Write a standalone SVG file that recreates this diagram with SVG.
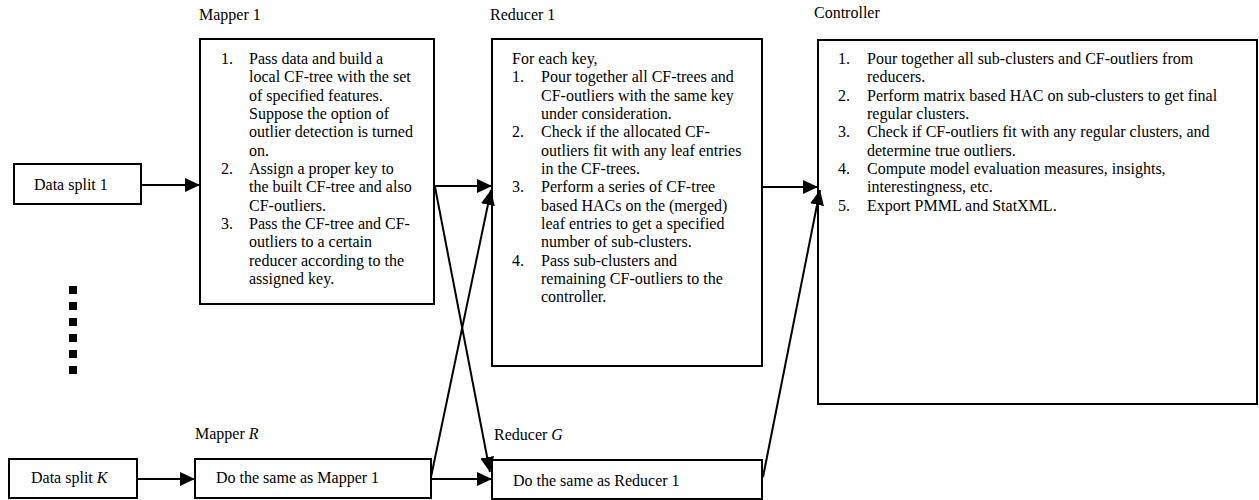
<svg xmlns="http://www.w3.org/2000/svg" width="1259" height="500" viewBox="0 0 1259 500">
<style>
text{font-family:"Liberation Serif","Times New Roman",serif;font-size:16px;fill:#000}
.box{fill:#fff;stroke:#000;stroke-width:2}
.c{stroke:#000;stroke-width:2;fill:none;marker-end:url(#ah)}
.dot{fill:#000}
</style>
<defs>
<marker id="ah" markerUnits="userSpaceOnUse" markerWidth="16" markerHeight="14" refX="15" refY="7" orient="auto">
<path d="M0,0 L15,7 L0,14 z" fill="#000"/>
</marker>
</defs>
<rect width="1259" height="500" fill="#fff"/>

<g id="data-split-1">
<rect class="box" x="14" y="164" width="127" height="40"/>
<text x="34" y="189.5">Data split 1</text>
</g>

<g id="mapper-1">
<text x="199" y="19.5">Mapper 1</text>
<rect class="box" x="200" y="39" width="234" height="265"/>
<text x="221" y="64">1.</text>
<text x="249" y="64">Pass data and build a</text>
<text x="249" y="82.3">local CF-tree with the set</text>
<text x="249" y="100.7">of specified features.</text>
<text x="249" y="119">Suppose the option of</text>
<text x="249" y="137.3">outlier detection is turned</text>
<text x="249" y="155.7">on.</text>
<text x="221" y="174">2.</text>
<text x="249" y="174">Assign a proper key to</text>
<text x="249" y="192.3">the built CF-tree and also</text>
<text x="249" y="210.7">CF-outliers.</text>
<text x="221" y="229">3.</text>
<text x="249" y="229">Pass the CF-tree and CF-</text>
<text x="249" y="247.3">outliers to a certain</text>
<text x="249" y="265.7">reducer according to the</text>
<text x="249" y="284">assigned key.</text>
</g>

<g id="reducer-1">
<text x="490" y="19.5">Reducer 1</text>
<rect class="box" x="492" y="39" width="270" height="327"/>
<text x="512" y="64">For each key,</text>
<text x="512" y="82.3">1.</text>
<text x="541" y="82.3">Pour together all CF-trees and</text>
<text x="541" y="100.7">CF-outliers with the same key</text>
<text x="541" y="119">under consideration.</text>
<text x="512" y="137.3">2.</text>
<text x="541" y="137.3">Check if the allocated CF-</text>
<text x="541" y="155.7">outliers fit with any leaf entries</text>
<text x="541" y="174">in the CF-trees.</text>
<text x="512" y="192.3">3.</text>
<text x="541" y="192.3">Perform a series of CF-tree</text>
<text x="541" y="210.7">based HACs on the (merged)</text>
<text x="541" y="229">leaf entries to get a specified</text>
<text x="541" y="247.3">number of sub-clusters.</text>
<text x="512" y="265.7">4.</text>
<text x="541" y="265.7">Pass sub-clusters and</text>
<text x="541" y="284">remaining CF-outliers to the</text>
<text x="541" y="302.3">controller.</text>
</g>

<g id="controller">
<text x="814" y="18.3">Controller</text>
<rect class="box" x="818" y="40" width="439" height="364"/>
<text x="838" y="64">1.</text>
<text x="867" y="64">Pour together all sub-clusters and CF-outliers from</text>
<text x="867" y="82.3">reducers.</text>
<text x="838" y="100.7">2.</text>
<text x="867" y="100.7">Perform matrix based HAC on sub-clusters to get final</text>
<text x="867" y="119">regular clusters.</text>
<text x="838" y="137.3">3.</text>
<text x="867" y="137.3">Check if CF-outliers fit with any regular clusters, and</text>
<text x="867" y="155.7">determine true outliers.</text>
<text x="838" y="174">4.</text>
<text x="867" y="174">Compute model evaluation measures, insights,</text>
<text x="867" y="192.3">interestingness, etc.</text>
<text x="838" y="210.7">5.</text>
<text x="867" y="210.7">Export PMML and StatXML.</text>
</g>

<g id="ellipsis">
<rect class="dot" x="69" y="286" width="8" height="8"/>
<rect class="dot" x="69" y="302" width="8" height="8"/>
<rect class="dot" x="69" y="318" width="8" height="8"/>
<rect class="dot" x="69" y="334" width="8" height="8"/>
<rect class="dot" x="69" y="350" width="8" height="8"/>
<rect class="dot" x="69" y="366" width="8" height="8"/>
</g>

<g id="data-split-k">
<rect class="box" x="9" y="459" width="128" height="39"/>
<text x="31" y="483">Data split <tspan font-style="italic">K</tspan></text>
</g>

<g id="mapper-r">
<text x="195" y="439">Mapper <tspan font-style="italic">R</tspan></text>
<rect class="box" x="195" y="459" width="236" height="39"/>
<text x="216" y="483">Do the same as Mapper 1</text>
</g>

<g id="reducer-g">
<text x="494" y="440">Reducer <tspan font-style="italic">G</tspan></text>
<rect class="box" x="492" y="460" width="270" height="39"/>
<text x="513" y="486">Do the same as Reducer 1</text>
</g>

<g id="connectors">
<line class="c" x1="141" y1="185" x2="200" y2="185"/>
<line class="c" x1="434" y1="186" x2="492" y2="186"/>
<line class="c" x1="762" y1="187" x2="818" y2="187"/>
<line class="c" x1="435" y1="187" x2="490" y2="472"/>
<line class="c" x1="431" y1="477" x2="491" y2="190"/>
<line class="c" x1="137" y1="479" x2="195" y2="479"/>
<line class="c" x1="431" y1="479" x2="492" y2="479"/>
<line class="c" x1="763" y1="477" x2="820" y2="190"/>
</g>
</svg>
